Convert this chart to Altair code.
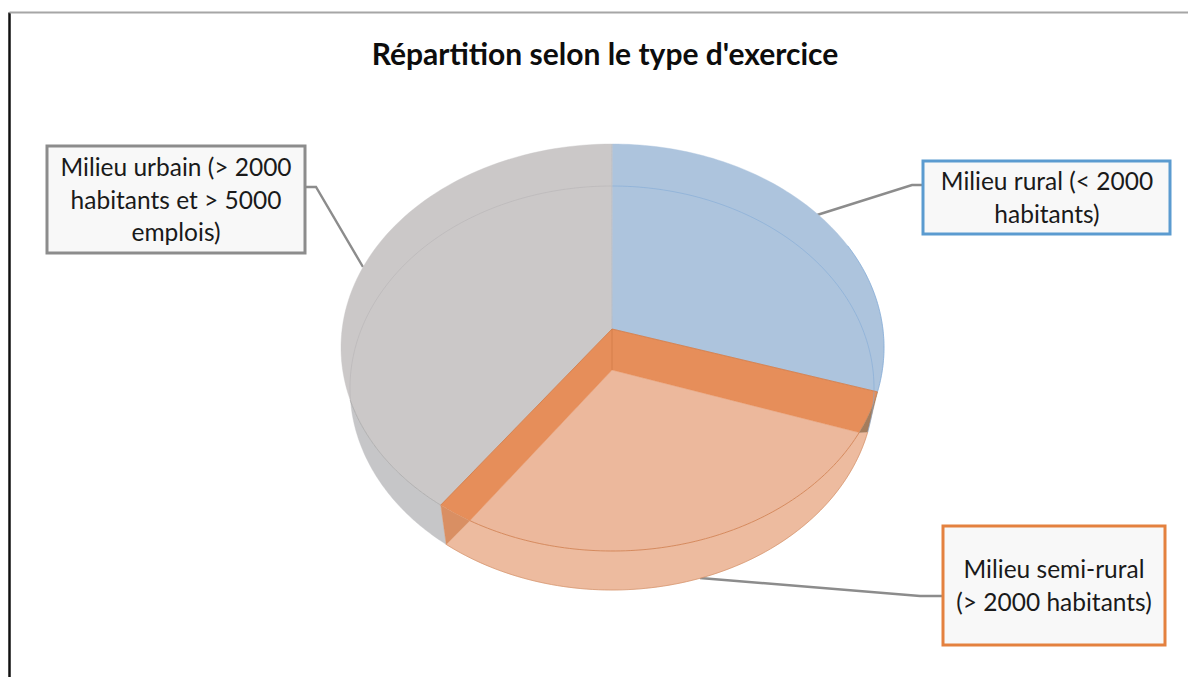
import math
import altair as alt

TITLE = "Répartition selon le type d'exercice"
CATEGORIES = ["Milieu rural (< 2000 habitants)", "Milieu semi-rural (> 2000 habitants)", "Milieu urbain (> 2000 habitants et > 5000 emplois)"]
SHARES = [28.5, 32.4, 39.1]

# projection of the tilted disc: upper face and lower face
TOP = (612.5, 347.5, 271.5, 203.5)
LOW = (612.0, 388.0, 262.0, 202.0)
PIVOT = (612.0, 329.0)
PIVOT_LOW = (612.0, 370.0)
INNER_T = (114.7, 211.7)
SIDE_T_TOP = 255.0
SIDE_T_LOW = 266.6

T_BLUE = SHARES[0] * 3.6
T_ORANGE = (SHARES[0] + SHARES[1]) * 3.6

X_SCALE = alt.Scale(domain=[8, 1188], nice=False, zero=False)
Y_SCALE = alt.Scale(domain=[677, 8], nice=False, zero=False)


def arc(e, t0, t1, n=90):
    cx, cy, rx, ry = e
    pts = []
    for k in range(n + 1):
        t = math.radians(t0 + (t1 - t0) * k / n)
        pts.append((cx + rx * math.sin(t), cy - ry * math.cos(t)))
    return pts


def enc(chart):
    return chart.encode(
        x=alt.X("x:Q", scale=X_SCALE, axis=None),
        y=alt.Y("y:Q", scale=Y_SCALE, axis=None),
        order=alt.Order("i:Q"),
    )


def rows(pts):
    return alt.Data(values=[{"x": p[0], "y": p[1], "i": i} for i, p in enumerate(pts)])


def shape(pts, fill):
    closed = pts + [pts[0]]
    return enc(alt.Chart(rows(closed)).mark_line(fill=fill, color=fill, strokeWidth=0.4))


def line(pts, color, width=1.0, opacity=1.0):
    return enc(alt.Chart(rows(pts)).mark_line(color=color, strokeWidth=width, opacity=opacity))


layers = [
    # frame
    line([(9.5, 677), (9.5, 12.5)], "#111111", 2.5),
    line([(9.5, 12.5), (1188, 12.5)], "#a6a6a6", 2),
    # leaders
    line([(305, 187), (316, 187), (363, 267)], "#8c8c8c", 2.4),
    line([(923, 185), (912, 185), (817, 215)], "#8c8c8c", 2.4),
    line([(943, 596), (920, 596), (700, 578)], "#8c8c8c", 2.4),
    # side walls
    shape(arc(TOP, T_ORANGE, SIDE_T_TOP) + arc(LOW, SIDE_T_LOW, T_ORANGE), "#c6c6c8"),
    shape(arc(TOP, INNER_T[0], INNER_T[1]) + arc(LOW, T_ORANGE, T_BLUE), "#edbb9f"),
    # upper faces
    shape([PIVOT] + arc(TOP, T_ORANGE, 360), "#cbc8c8"),
    shape([PIVOT] + arc(TOP, 0, T_BLUE), "#adc4dd"),
    # open wedge
    shape([PIVOT_LOW] + arc(TOP, INNER_T[0], INNER_T[1]), "#ecb89c"),
    shape([PIVOT] + arc(TOP, T_BLUE, INNER_T[0], 20) + [PIVOT_LOW], "#e68e5a"),
    shape([PIVOT] + arc(TOP, T_ORANGE, INNER_T[1], 20) + [PIVOT_LOW], "#e68e5a"),
    shape(arc(TOP, T_BLUE, INNER_T[0], 20) + arc(LOW, T_BLUE, T_BLUE, 1), "#a47c5c"),
    shape(arc(TOP, INNER_T[1], T_ORANGE, 20) + arc(LOW, T_ORANGE, T_ORANGE, 1), "#d98f63"),
    # thin contour lines
    line(arc(LOW, 0, T_BLUE), "#7fa8d6", 0.8, 0.7),
    line(arc(LOW, SIDE_T_LOW, 360), "#a9a7a8", 0.7, 0.5),
    line(arc(TOP, 60, T_BLUE), "#7fa8d6", 1.0, 0.7),
    line(arc(TOP, INNER_T[0], INNER_T[1]), "#cf7d4c", 1.0, 0.8),
    line(arc(LOW, T_BLUE, T_ORANGE), "#cf8a60", 0.8, 0.8),
    line(arc(TOP, T_ORANGE, SIDE_T_TOP), "#9a9a9a", 0.8, 0.7),
    line([PIVOT, (612, 144)], "#b9bcc4", 0.8),
    line([PIVOT, PIVOT_LOW], "#d07c48", 0.8),
    line([PIVOT] + arc(TOP, T_BLUE, T_BLUE, 1)[:1], "#cf7d4c", 0.8),
    line([PIVOT] + arc(TOP, T_ORANGE, T_ORANGE, 1)[:1], "#cf7d4c", 0.8),
]

BOXES = [
    {"x": 47, "x2": 305, "y": 146, "y2": 253, "c": "#8c8c8c"},
    {"x": 923, "x2": 1170, "y": 161, "y2": 234, "c": "#5b9bd0"},
    {"x": 943, "x2": 1165, "y": 526, "y2": 645, "c": "#e4813f"},
]
for b in BOXES:
    layers.append(
        alt.Chart(alt.Data(values=[b])).mark_rect(fill="#f8f8f8", stroke=b["c"], strokeWidth=3).encode(
            x=alt.X("x:Q", scale=X_SCALE, axis=None),
            x2="x2:Q",
            y=alt.Y("y:Q", scale=Y_SCALE, axis=None),
            y2="y2:Q",
        )
    )

LABEL_LINES = [
    ("Milieu urbain (> 2000", 176, 168.5),
    ("habitants et > 5000", 176, 201.5),
    ("emplois)", 176, 234),
    ("Milieu rural (< 2000", 1047, 182.5),
    ("habitants)", 1047, 215.5),
    ("Milieu semi-rural", 1054, 570.5),
    ("(> 2000 habitants)", 1054, 603.5),
]
layers.append(
    alt.Chart(alt.Data(values=[{"t": t, "x": x, "y": y} for t, x, y in LABEL_LINES])).mark_text(
        font="Lato", fontSize=24.5, color="#1a1a1a", align="center", baseline="middle"
    ).encode(
        x=alt.X("x:Q", scale=X_SCALE, axis=None),
        y=alt.Y("y:Q", scale=Y_SCALE, axis=None),
        text="t:N",
    )
)

chart = alt.layer(*layers).properties(
    width=1180,
    height=669,
    padding=0,
    autosize=alt.AutoSizeParams(type="none"),
    title=alt.TitleParams(
        TITLE, font="Lato", fontSize=30, fontWeight="bold", color="#0d0d0d",
        anchor="middle", dx=7, dy=38, offset=-55, baseline="bottom",
    ),
).configure_view(stroke=None)

chart.save("out.html", embed_options={"renderer": "svg", "actions": False})
